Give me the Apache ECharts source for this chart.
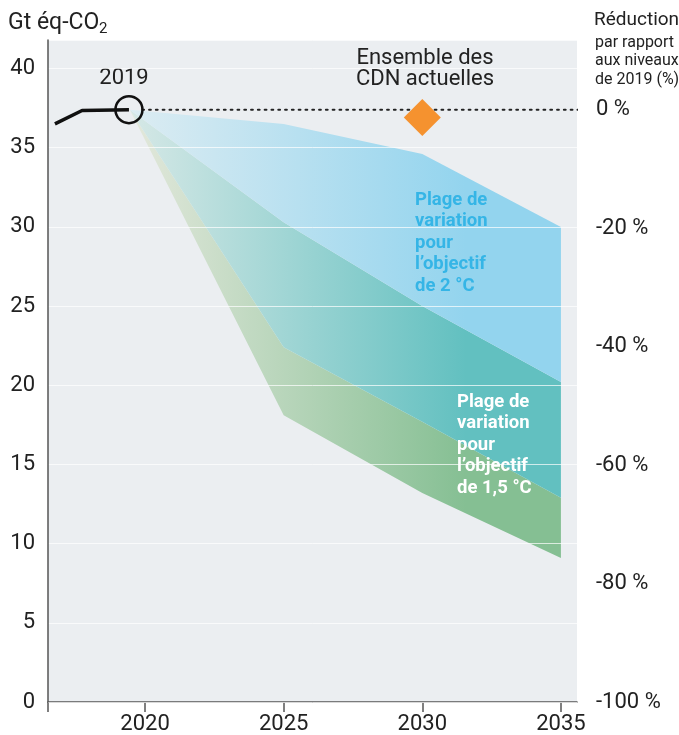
<!DOCTYPE html>
<html><head><meta charset="utf-8">
<script src="https://cdn.jsdelivr.net/npm/echarts@6/dist/echarts.min.js"></script>
<style>html,body{margin:0;padding:0;background:#fff}#c{width:679px;height:735px}</style>
</head><body><div id="c"></div>
<script>
// ---- data ----
const bandYears = [2019.45, 2025, 2030, 2035];
const twoDegUpper = [37.4, 36.5, 34.6, 30.0];
const twoDegLower = [37.4, 22.4, 17.7, 12.9];
const onePointFiveUpper = [37.4, 30.3, 25.0, 20.2];
const onePointFiveLower = [37.4, 18.1, 13.2, 9.1];
const histYears = [2016.75, 2017.73, 2019.42];
const histValues = [36.5, 37.35, 37.4];
const ndcYears = [2030];
const ndcValues = [36.9];
const baseline2019 = 37.4;
const xTickYears = [2020, 2025, 2030, 2035];
const xMin = 2016.5, xMax = 2035.58;
const yMax = 41.8;

const FONT = 'Roboto';
const chart = echarts.init(document.getElementById('c'), null, {renderer: 'canvas'});

function grad(pale, full) {
  return new echarts.graphic.LinearGradient(0, 0, 1, 0, [
    {offset: 0, color: pale},
    {offset: 0.78, color: full},
    {offset: 1, color: full}
  ]);
}
const pairs = (xs, ys) => xs.map((x, i) => [x, ys[i]]);

// band region between two edges, drawn as one polygon through the axes' scales
function bandSeries(name, lower, upper, fill) {
  const data = bandYears.map((x, i) => [x, lower[i], upper[i]]);
  return {
    type: 'custom', name: name, data: data, z: 1, silent: true, clip: true,
    encode: {x: 0, y: [1, 2]},
    renderItem: function (params, api) {
      if (params.dataIndex !== 0) return null;
      const top = data.map(d => api.coord([d[0], d[2]]));
      const bot = data.map(d => api.coord([d[0], d[1]])).reverse();
      return {type: 'polygon', shape: {points: top.concat(bot)}, style: {fill: fill}};
    }
  };
}

chart.setOption({
  animation: false,
  textStyle: {fontFamily: FONT},
  grid: {left: 48, right: 102, top: 40, bottom: 33, show: true, backgroundColor: '#ebeef1', borderWidth: 0},
  xAxis: {
    type: 'value', min: xMin, max: xMax,
    axisLine: {show: true, lineStyle: {color: '#555', width: 1.5}},
    axisTick: {show: true, length: 10, lineStyle: {color: '#555', width: 1.5}, customValues: [xMin].concat(xTickYears)},
    axisLabel: {customValues: xTickYears, fontSize: 22, color: '#222', margin: 11, fontFamily: FONT, formatter: v => String(v)},
    splitLine: {show: false}
  },
  yAxis: [{
    type: 'value', min: 0, max: yMax, interval: 5, position: 'left', z: 5,
    axisLine: {show: true, lineStyle: {color: '#555', width: 1.5}},
    axisTick: {show: false},
    axisLabel: {fontSize: 22, color: '#222', margin: 13, showMaxLabel: false, fontFamily: FONT},
    splitLine: {show: true, lineStyle: {color: 'rgba(255,255,255,0.7)', width: 1}}
  }, {
    type: 'value', min: -100, max: yMax / baseline2019 * 100 - 100, interval: 20, position: 'right',
    axisLine: {show: false}, axisTick: {show: false}, splitLine: {show: false},
    axisLabel: {fontSize: 22, color: '#222', margin: 19, showMaxLabel: false, formatter: '{value} %', fontFamily: FONT}
  }],
  series: [
    bandSeries('1.5 only', onePointFiveLower, twoDegLower, grad('#e3e8dc', '#85bf93')),
    bandSeries('overlap', twoDegLower, onePointFiveUpper, grad('#d6e8e6', '#62c0c0')),
    bandSeries('2 only', onePointFiveUpper, twoDegUpper, grad('#dcecf2', '#93d4ee')),
    {type: 'line', name: 'ref', data: [[2019.9, baseline2019], [2035.87, baseline2019]], symbol: 'none', clip: false, z: 6,
      lineStyle: {color: '#222', width: 2, type: [1.8, 5], cap: 'round'}, silent: true},
    {type: 'line', name: 'hist', data: pairs(histYears, histValues), symbol: 'none', z: 7,
      lineStyle: {color: '#111', width: 3.5}, silent: true},
    {type: 'scatter', name: '2019', data: [[histYears[2], baseline2019]], symbol: 'circle', symbolSize: 27, z: 8,
      itemStyle: {color: 'rgba(0,0,0,0)', borderColor: '#111', borderWidth: 2.5, opacity: 1}, silent: true},
    {type: 'scatter', name: 'NDC', data: pairs(ndcYears, ndcValues), symbol: 'diamond', symbolSize: [37, 37], z: 8,
      itemStyle: {color: '#f5922f', opacity: 1}, silent: true}
  ],
  graphic: [
    {type: 'text', x: 8, y: 23, style: {text: 'Gt éq-CO', font: '23px Roboto', fill: '#222', textVerticalAlign: 'middle'}},
    {type: 'text', x: 99, y: 29, style: {text: '2', font: '15px Roboto', fill: '#222', textVerticalAlign: 'middle'}},
    {type: 'text', x: 124, y: 78, style: {text: '2019', font: '22px Roboto', fill: '#222', textAlign: 'center', textVerticalAlign: 'middle'}},
    {type: 'text', x: 425, y: 69, style: {text: 'Ensemble des\nCDN actuelles', font: '22px Roboto', lineHeight: 21.5, fill: '#222', textAlign: 'center', textVerticalAlign: 'middle'}},
    {type: 'text', x: 594, y: 20, style: {text: 'Réduction', font: '19px Roboto', fill: '#222', textVerticalAlign: 'middle'}},
    {type: 'text', x: 595, y: 61, style: {text: 'par rapport\naux niveaux\nde 2019 (%)', font: '16px Roboto', lineHeight: 18.5, fill: '#222', textVerticalAlign: 'middle'}},
    {type: 'text', x: 415, y: 243, z: 10, style: {text: 'Plage de\nvariation\npour\nl’objectif\nde 2 °C', font: 'bold 18.5px Roboto', lineHeight: 21.5, fill: '#35b5e6', textVerticalAlign: 'middle'}},
    {type: 'text', x: 457, y: 445, z: 10, style: {text: 'Plage de\nvariation\npour\nl’objectif\nde 1,5 °C', font: 'bold 18.5px Roboto', lineHeight: 21.5, fill: '#ffffff', textVerticalAlign: 'middle'}}
  ]
});
</script></body></html>
